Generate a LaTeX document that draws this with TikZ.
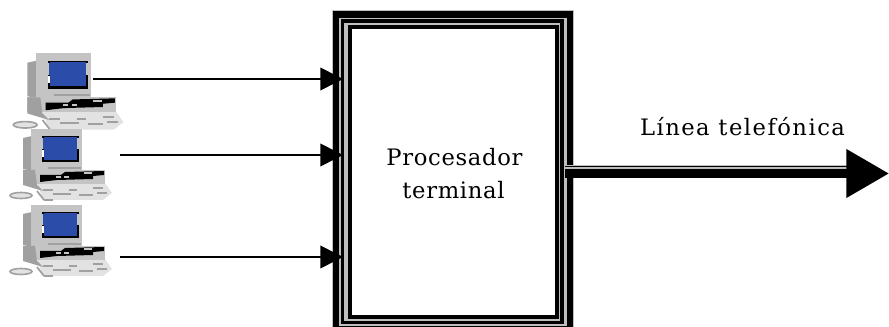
\documentclass[tikz,border=0pt]{standalone}
\usepackage{fontspec}
\usetikzlibrary{arrows.meta}
\newfontfamily\labelfont[LetterSpace=3]{DejaVu Serif}
\newfontfamily\linefont[LetterSpace=6.5]{DejaVu Serif}
\definecolor{pcblue}{HTML}{2B4CA8}
\definecolor{pcgray}{HTML}{C4C4C4}
\definecolor{pcdark}{HTML}{A0A0A0}
\definecolor{pclight}{HTML}{E2E2E2}
\definecolor{gapgray}{HTML}{BEBEBE}
\tikzset{
  pc/.pic={
    \fill[pcdark] (-8,9) -- (1,7) -- (1,42) -- (-8,40) -- cycle;
    \fill[pcgray] (0,0) rectangle (51,44);
    \fill[black] (11,7) rectangle (48,33);
    \fill[pcblue] (13,8.5) rectangle (46,31);
    \fill[pcblue] (11,9) rectangle (13,20);
    \fill[pcgray] (11,9) rectangle (12,20);
    \fill[white] (11,21) rectangle (13,28);
    \fill[pcgray] (46,9) rectangle (48,20);
    % base
    \fill[pclight] (6,54) -- (74,54) -- (81,64) -- (72,71) -- (12,71) -- cycle;
    \fill[pcgray] (-8,41) rectangle (74,55);
    \fill[pcdark] (-8,41) -- (4,41) -- (6,56) -- (12,62) -- (-8,56) -- cycle;
    \fill[pcdark] (17,38) rectangle (50,40);
    \fill[black] (9,46) -- (30,46) -- (34,43) -- (73,42) -- (73,46) -- (62,47) -- (62,50) -- (26,51) -- (9,53) -- cycle;
    \fill[pcgray] (25,47) rectangle (30,49.5);
    \fill[pcgray] (33,47) rectangle (38,49.5);
    \fill[pcgray] (53,43.5) rectangle (61,45);
    % keys and mouse
    \foreach \dx/\dy/\len in {12/60/10,22/64/18,38/60/8,48/65/14,62/58/10,66/63/10}{
      \fill[pcdark] (\dx,\dy) rectangle ++(\len,2);
    }
    \draw[pcdark,fill=pclight,line width=1.2pt] (-10,66.5) ellipse (11 and 3);
    \draw[pcdark,line width=1.3pt] (6,62) -- (13,71);
    \draw[pcdark,line width=1.3pt] (13,71) -- (22,71);
  },
  frameline/.style={line width=#1*0.75pt,black},
  thinarrow/.style={line width=1.2pt,-{Triangle[length=17pt,width=17pt]}},
  boxtext/.style={font=\labelfont\fontsize{17}{20}\selectfont,align=center,inner sep=0pt},
}
\begin{document}
\begin{tikzpicture}[x=0.75pt,y=-0.75pt]
    \useasboundingbox (0,0) rectangle (889,327);
    \clip (0,0) rectangle (889,327);

    \pic[scale=1.08] at (36,53) {pc};
    \pic at (31,129) {pc};
    \pic at (31,205) {pc};

    % triple frame
    \fill[gapgray] (332,10) rectangle (574,340);
    \draw[frameline=6.5] (336.2,14.5) rectangle (569.8,329.5);
    \draw[frameline=3.5] (342.7,21) rectangle (562,322.5);
    \draw[frameline=4] (349.5,26.8) rectangle (557,317);
    \fill[white] (351.5,28.8) rectangle (555,315);

    \coordinate (pcone) at (93,79);
    \coordinate (pctwo) at (120,155);
    \coordinate (pcthree) at (120,257);
    \coordinate (inone) at (343,79);
    \coordinate (intwo) at (343,155);
    \coordinate (inthree) at (343,257);
    \coordinate (outthin) at (565,166.5);
    \coordinate (headthin) at (848,166.5);
    \coordinate (outline) at (565,173.5);
    \coordinate (headline) at (889,173.5);

    \draw[thinarrow] (pcone) -- (inone);
    \draw[thinarrow] (pctwo) -- (intwo);
    \draw[thinarrow] (pcthree) -- (inthree);

    \draw[gapgray,line width=6pt] (565,169) -- (848,169);
    \draw[black,line width=1.1pt] (outthin) -- (headthin);
    \draw[line width=6.4pt,-{Triangle[length=32pt,width=35pt]}] (outline) -- (headline);

    \node[boxtext] (proc) at (454.5,157) {Procesador};
    \node[boxtext] (term) at (453.5,190) {terminal};
    \node[boxtext,font=\linefont\fontsize{17}{20}\selectfont] (phone) at (742.5,127) {Línea telefónica};
\end{tikzpicture}
\end{document}
